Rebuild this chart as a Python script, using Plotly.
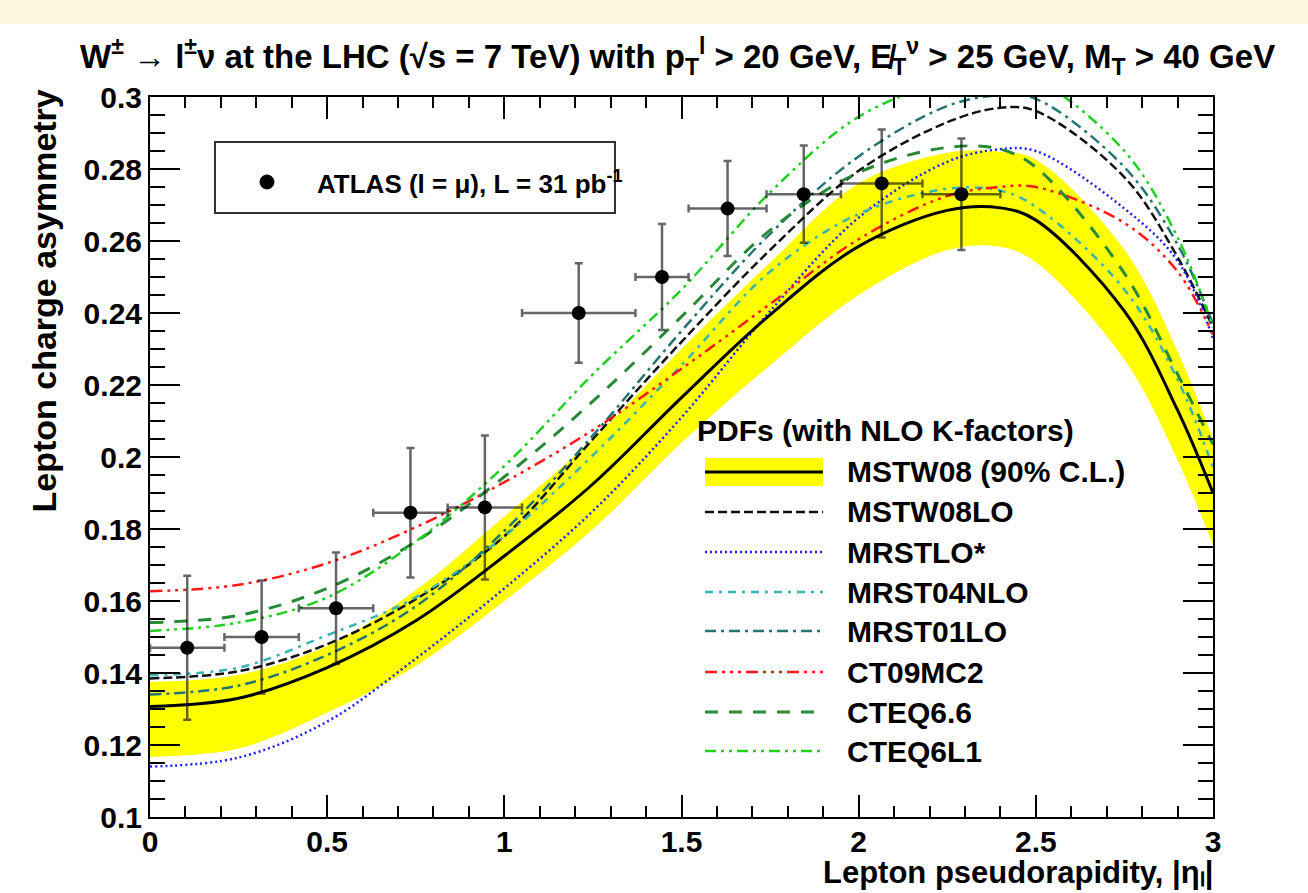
import plotly.graph_objects as go

# ---------------- data ----------------
GRID = [0.0, 0.25, 0.5, 0.75, 1.0, 1.25, 1.5, 1.75, 2.0, 2.25, 2.4, 2.5, 2.75, 2.9, 3.0]

mstw08_central = [0.1307, 0.1330, 0.1415, 0.1545, 0.1725, 0.1925, 0.2165, 0.2395, 0.2585, 0.2685, 0.2692, 0.2658, 0.2405, 0.2130, 0.1900]
mstw08_upper   = [0.1375, 0.1395, 0.1475, 0.1630, 0.1835, 0.2050, 0.2300, 0.2540, 0.2760, 0.2845, 0.2848, 0.2826, 0.2576, 0.2293, 0.2050]
mstw08_lower   = [0.1167, 0.1190, 0.1290, 0.1420, 0.1600, 0.1800, 0.2040, 0.2255, 0.2450, 0.2575, 0.2584, 0.2541, 0.2271, 0.1992, 0.1755]

mstw08lo  = [0.1385, 0.1405, 0.1480, 0.1605, 0.1780, 0.2050, 0.2320, 0.2575, 0.2795, 0.2930, 0.2970, 0.2961, 0.2777, 0.2555, 0.2360]
mrstlo_s  = [0.1140, 0.1165, 0.1265, 0.1440, 0.1635, 0.1850, 0.2110, 0.2405, 0.2665, 0.2820, 0.2855, 0.2850, 0.2690, 0.2545, 0.2330]
mrst04nlo = [0.1394, 0.1415, 0.1505, 0.1610, 0.1780, 0.2005, 0.2255, 0.2515, 0.2675, 0.2745, 0.2740, 0.2695, 0.2465, 0.2215, 0.1970]
mrst01lo  = [0.1340, 0.1365, 0.1450, 0.1585, 0.1795, 0.2060, 0.2350, 0.2620, 0.2835, 0.2975, 0.3005, 0.2995, 0.2805, 0.2590, 0.2370]
ct09mc2   = [0.1627, 0.1645, 0.1705, 0.1805, 0.1930, 0.2075, 0.2245, 0.2425, 0.2605, 0.2725, 0.2750, 0.2750, 0.2650, 0.2515, 0.2340]
cteq66    = [0.1540, 0.1560, 0.1635, 0.1765, 0.1945, 0.2155, 0.2390, 0.2630, 0.2790, 0.2860, 0.2855, 0.2805, 0.2510, 0.2230, 0.2035]
cteq6l1   = [0.1517, 0.1540, 0.1610, 0.1765, 0.1975, 0.2230, 0.2465, 0.2735, 0.2945, 0.3045, 0.3070, 0.3050, 0.2850, 0.2610, 0.2360]

# ATLAS muon data
eta_edges = [0.0, 0.21, 0.42, 0.63, 0.84, 1.05, 1.37, 1.52, 1.74, 1.95, 2.18, 2.40]
asym      = [0.147, 0.150, 0.158, 0.1845, 0.186, 0.240, 0.250, 0.269, 0.273, 0.276, 0.273]
asym_err  = [0.020, 0.0157, 0.0155, 0.018, 0.020, 0.0138, 0.0147, 0.0132, 0.0135, 0.015, 0.0155]

title_text = ("W<sup>±</sup> → l<sup>±</sup>ν at the LHC (√s = 7 TeV) with p<sub>T</sub><sup>l</sup> > 20 GeV, "
              "E̸<sub>T</sub><sup>ν</sup> > 25 GeV, M<sub>T</sub> > 40 GeV")

curve_names = ["MSTW08LO", "MRSTLO*", "MRST04NLO", "MRST01LO", "CT09MC2", "CTEQ6.6", "CTEQ6L1"]
curve_vals = [mstw08lo, mrstlo_s, mrst04nlo, mrst01lo, ct09mc2, cteq66, cteq6l1]
curve_style = {
    "MSTW08LO":  dict(color="#111111", dash="9px,4px", width=2.5),
    "MRSTLO*":   dict(color="#2020ff", dash="2px,3px", width=2.5),
    "MRST04NLO": dict(color="#38b4b4", dash="8px,6px,3px,6px", width=2.5),
    "MRST01LO":  dict(color="#247474", dash="11px,5px,3px,5px", width=2.5),
    "CT09MC2":   dict(color="#ff1a1a", dash="12px,5px,3px,5px,3px,5px,3px,5px", width=2.5),
    "CTEQ6.6":   dict(color="#278a35", dash="13px,11px", width=3),
    "CTEQ6L1":   dict(color="#1fd01f", dash="11px,5px,3px,5px,3px,5px", width=2.5),
}

# ---------------- layout geometry ----------------
W, H = 1308, 893
L, R, T, B = 150, 1213, 97, 817
def px(x):
    return (x - L) / (R - L)
def py(y):
    return (B - y) / (B - T)

FONT = "Liberation Sans, Arial, Helvetica, sans-serif"

fig = go.Figure()

# MSTW08 band
fig.add_trace(go.Scatter(x=GRID, y=mstw08_lower, mode="lines",
                         line=dict(width=0, shape="spline", color="#ffff00"),
                         showlegend=False, hoverinfo="skip"))
fig.add_trace(go.Scatter(x=GRID, y=mstw08_upper, mode="lines", fill="tonexty",
                         fillcolor="#ffff00",
                         line=dict(width=0, shape="spline", color="#ffff00"),
                         showlegend=False, hoverinfo="skip"))

# other PDF curves
for name, vals in zip(curve_names, curve_vals):
    st = curve_style[name]
    fig.add_trace(go.Scatter(x=GRID, y=vals, mode="lines", name=name,
                             line=dict(color=st["color"], dash=st["dash"], width=st["width"], shape="spline"),
                             showlegend=False))

# central MSTW08
fig.add_trace(go.Scatter(x=GRID, y=mstw08_central, mode="lines", name="MSTW08",
                         line=dict(color="black", width=3, shape="spline"), showlegend=False))

# data
eta_c = [(eta_edges[i] + eta_edges[i + 1]) / 2 for i in range(len(asym))]
eta_hw = [(eta_edges[i + 1] - eta_edges[i]) / 2 for i in range(len(asym))]
fig.add_trace(go.Scatter(
    x=eta_c, y=asym, mode="markers",
    marker=dict(color="black", size=14, symbol="circle"),
    error_y=dict(type="data", array=asym_err, color="rgba(0,0,0,0.6)", thickness=2.5, width=4),
    error_x=dict(type="data", array=eta_hw, color="rgba(0,0,0,0.6)", thickness=2.5, width=4),
    showlegend=False))

shapes = []
annotations = []

# top cream strip
shapes.append(dict(type="rect", xref="paper", yref="paper", x0=px(0), x1=px(W), y0=py(24), y1=py(0),
                   fillcolor="#fdf6dc", line=dict(width=0), layer="below"))

# title
annotations.append(dict(xref="paper", yref="paper", x=px(677), y=py(57), xanchor="center", yanchor="middle",
                        text="<b>" + title_text + "</b>", showarrow=False,
                        font=dict(family=FONT, size=33, color="black")))
# axis titles
annotations.append(dict(xref="paper", yref="paper", x=px(43), y=py(88), xanchor="center", yanchor="top",
                        text="<b>Lepton charge asymmetry</b>", textangle=-90, showarrow=False,
                        font=dict(family=FONT, size=34, color="black")))
annotations.append(dict(xref="paper", yref="paper", x=px(1215), y=py(892), xanchor="right", yanchor="bottom",
                        text="<b>Lepton pseudorapidity, |ηₗ|</b>", showarrow=False,
                        font=dict(family=FONT, size=31, color="black")))

# legend 1 (ATLAS data)
shapes.append(dict(type="rect", xref="paper", yref="paper", x0=px(215), x1=px(615), y0=py(213), y1=py(142),
                   fillcolor="white", line=dict(color="#333333", width=2)))
r = 7
shapes.append(dict(type="circle", xref="paper", yref="paper", x0=px(267 - r), x1=px(267 + r),
                   y0=py(182 + r), y1=py(182 - r), fillcolor="black", line=dict(color="black", width=1)))
annotations.append(dict(xref="paper", yref="paper", x=px(315), y=py(182), xanchor="left", yanchor="middle",
                        text="<b>ATLAS (l = μ), L = 31 pb<sup>-1</sup></b>", showarrow=False,
                        font=dict(family=FONT, size=26, color="black")))

# legend 2 (PDFs)
annotations.append(dict(xref="paper", yref="paper", x=px(695), y=py(430), xanchor="left", yanchor="middle",
                        text="<b>PDFs (with NLO K-factors)</b>", showarrow=False,
                        font=dict(family=FONT, size=30, color="black")))
lx0, lx1, tx = 705, 823, 845
row_y = [472, 512, 552, 592, 631, 672, 712, 751]
shapes.append(dict(type="rect", xref="paper", yref="paper", x0=px(lx0), x1=px(lx1),
                   y0=py(row_y[0] + 14), y1=py(row_y[0] - 14), fillcolor="#ffff00", line=dict(width=0)))
shapes.append(dict(type="line", xref="paper", yref="paper", x0=px(lx0), x1=px(lx1),
                   y0=py(row_y[0]), y1=py(row_y[0]), line=dict(color="black", width=3)))
annotations.append(dict(xref="paper", yref="paper", x=px(tx), y=py(row_y[0]), xanchor="left", yanchor="middle",
                        text="<b>MSTW08 (90% C.L.)</b>", showarrow=False,
                        font=dict(family=FONT, size=30, color="black")))
for i, name in enumerate(curve_names):
    st = curve_style[name]
    yy = row_y[i + 1]
    shapes.append(dict(type="line", xref="paper", yref="paper", x0=px(lx0), x1=px(lx1),
                       y0=py(yy), y1=py(yy), line=dict(color=st["color"], dash=st["dash"], width=st["width"])))
    annotations.append(dict(xref="paper", yref="paper", x=px(tx), y=py(yy), xanchor="left", yanchor="middle",
                            text="<b>" + name + "</b>", showarrow=False,
                            font=dict(family=FONT, size=30, color="black")))

axis_common = dict(showgrid=False, zeroline=False, showline=True, linecolor="black", linewidth=2,
                   mirror="allticks", ticks="inside", tickcolor="black", tickwidth=2,
                   tickfont=dict(family=FONT, size=30, color="black", weight="bold"))

fig.update_layout(
    width=W, height=H,
    margin=dict(l=L, r=W - R, t=T, b=H - B, pad=0),
    paper_bgcolor="white", plot_bgcolor="white",
    showlegend=False,
    xaxis=dict(range=[0, 3], dtick=0.5, tick0=0, ticklen=22, ticklabelstandoff=-3,
               minor=dict(dtick=0.1, ticks="inside", ticklen=11, tickcolor="black", tickwidth=2),
               **axis_common),
    yaxis=dict(range=[0.1, 0.3], dtick=0.02, tick0=0.1, ticklen=30,
               minor=dict(dtick=0.005, ticks="inside", ticklen=15, tickcolor="black", tickwidth=2),
               **axis_common),
    shapes=shapes,
    annotations=annotations,
)

fig.write_html("out.html")
